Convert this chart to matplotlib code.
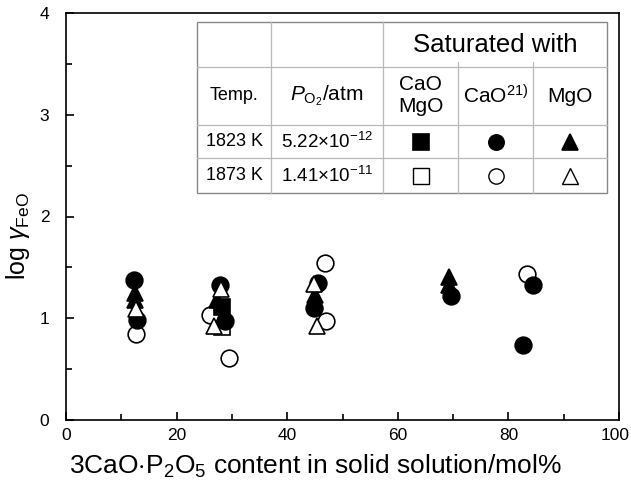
import matplotlib
matplotlib.use("Agg")
import matplotlib.pyplot as plt
import matplotlib.transforms as mtransforms
from matplotlib.ticker import MultipleLocator
from matplotlib.lines import Line2D

plt.rcParams['font.family'] = ['Liberation Sans', 'DejaVu Sans']
plt.rcParams['mathtext.fontset'] = 'custom'
plt.rcParams['mathtext.rm'] = 'Liberation Sans'
plt.rcParams['mathtext.it'] = 'Liberation Sans:italic'
plt.rcParams['mathtext.bf'] = 'Liberation Sans:bold'

# ---- data (x: 3CaO·P2O5 content / mol%, y: log gamma_FeO) ----
cao_mgo_1823_x = [28.3]
cao_mgo_1823_y = [1.11]
cao_mgo_1873_x = [28.2]
cao_mgo_1873_y = [0.91]

cao_1823_x = [12.3, 12.8, 27.8, 28.7, 45.6, 44.9, 69.7, 84.5, 82.7]
cao_1823_y = [1.38, 0.98, 1.33, 0.97, 1.35, 1.10, 1.22, 1.33, 0.74]
cao_1873_x = [12.7, 26.0, 29.5, 46.8, 47.1, 83.3]
cao_1873_y = [0.85, 1.03, 0.61, 1.54, 0.97, 1.43]

mgo_1823_x = [12.4, 12.4, 27.3, 45.0, 45.0, 69.3, 69.3]
mgo_1823_y = [1.25, 1.18, 1.18, 1.23, 1.17, 1.41, 1.33]
mgo_1873_x = [12.7, 28.0, 26.7, 44.8, 45.3]
mgo_1873_y = [1.09, 1.29, 0.92, 1.34, 0.92]

xticks = [0, 20, 40, 60, 80, 100]
yticks = [0, 1, 2, 3, 4]

fig = plt.figure(figsize=(6.31, 4.80), dpi=100)
L, R, B, T = 66, 619, 420, 13
W, H = 631, 480
ax = fig.add_axes([L / W, 1 - B / H, (R - L) / W, (B - T) / H])

ms = 12
mew = 1.2
ax.plot(cao_mgo_1873_x, cao_mgo_1873_y, 's', ms=ms, mfc='white', mec='black', mew=mew, ls='none')
ax.plot(cao_1873_x, cao_1873_y, 'o', ms=ms, mfc='white', mec='black', mew=mew, ls='none')
ax.plot(cao_1823_x, cao_1823_y, 'o', ms=ms, mfc='black', mec='black', mew=mew, ls='none')
ax.plot(cao_mgo_1823_x, cao_mgo_1823_y, 's', ms=ms, mfc='black', mec='black', mew=mew, ls='none')
ax.plot(mgo_1823_x, mgo_1823_y, '^', ms=ms, mfc='black', mec='black', mew=mew, ls='none')
ax.plot(mgo_1873_x, mgo_1873_y, '^', ms=ms, mfc='white', mec='black', mew=mew, ls='none')

ax.set_xlim(0, 100)
ax.set_ylim(0, 4)
ax.set_xticks(xticks)
ax.set_yticks(yticks)
ax.xaxis.set_minor_locator(MultipleLocator(10))
ax.yaxis.set_minor_locator(MultipleLocator(0.5))
ax.tick_params(which='both', direction='in', top=False, right=False, labelsize=12.5, width=1.2)
ax.tick_params(axis='x', which='major', length=6, pad=6)
ax.tick_params(axis='y', which='major', length=6, pad=12)
ax.tick_params(which='minor', length=4)
for s in ax.spines.values():
    s.set_linewidth(1.2)

# keep the last x tick label inside the canvas
fig.canvas.draw()
last = ax.get_xticklabels()[-1]
last.set_transform(last.get_transform() + mtransforms.ScaledTranslation(-4 / 100, 0, fig.dpi_scale_trans))

ax.set_xlabel(r"3CaO$\cdot$P$_2$O$_5$ content in solid solution/mol%", fontsize=19)
ax.xaxis.set_label_coords((315 - L) / (R - L), -(466 - B) / (B - T))
ax.xaxis.label.set_va('center')
ax.set_ylabel(r"log $\mathit{\gamma}_{\mathrm{FeO}}$", fontsize=18)
ax.yaxis.set_label_coords(-(L - 18) / (R - L), (B - 236) / (B - T))
ax.yaxis.label.set_va('center')

# ---- legend table ----
def fx(px):
    return (px - L) / (R - L)

def fy(py):
    return (B - py) / (B - T)

tr = ax.transAxes
gcol = '#b8b8b8'
x0, x1, x2, x3, x4, x5 = 197, 271, 383, 458, 533, 607
y0, y1, y2, y3, y4 = 22, 67, 125, 158, 193

ax.add_patch(plt.Rectangle((fx(x0), fy(y4)), fx(x5) - fx(x0), fy(y0) - fy(y4),
                           transform=tr, facecolor='white', edgecolor='#888888', lw=1.0, zorder=5))
for yy in (y1, y2, y3):
    ax.add_line(Line2D([fx(x0), fx(x5)], [fy(yy), fy(yy)], transform=tr, color=gcol, lw=0.9, zorder=6))
for xx in (x1, x2):
    ax.add_line(Line2D([fx(xx), fx(xx)], [fy(y0), fy(y4)], transform=tr, color=gcol, lw=0.9, zorder=6))
for xx in (x3, x4):
    ax.add_line(Line2D([fx(xx), fx(xx)], [fy(62), fy(y4)], transform=tr, color=gcol, lw=0.9, zorder=6))

cx = [(x0 + x1) / 2, (x1 + x2) / 2, (x2 + x3) / 2, (x3 + x4) / 2, (x4 + x5) / 2]
ry = [(y0 + y1) / 2, (y1 + y2) / 2, (y2 + y3) / 2, (y3 + y4) / 2]

def txt(px, py, s, fs):
    ax.text(fx(px), fy(py), s, transform=tr, ha='center', va='center', fontsize=fs, zorder=7)

txt((x2 + x5) / 2, ry[0] + 1, "Saturated with", 18.5)
txt(cx[0], ry[1], "Temp.", 13)
txt(cx[1], ry[1], r"$\mathit{P}_{\mathrm{O_2}}$/atm", 15)
txt(cx[2], ry[1], "CaO\nMgO", 15)
txt(cx[3], ry[1], r"CaO$^{21)}$", 15)
txt(cx[4], ry[1], "MgO", 15)
txt(cx[0], ry[2], "1823 K", 13)
txt(cx[1], ry[2], r"5.22×10$^{-12}$", 13.5)
txt(cx[0], ry[3], "1873 K", 13)
txt(cx[1], ry[3], r"1.41×10$^{-11}$", 13.5)

lms = 11
for mk, col in [('s', 2), ('o', 3), ('^', 4)]:
    ax.plot([fx(cx[col])], [fy(ry[2])], mk, transform=tr, ms=lms, mfc='black', mec='black', mew=mew, zorder=8, clip_on=False)
for mk, col in [('s', 2), ('o', 3), ('^', 4)]:
    ax.plot([fx(cx[col])], [fy(ry[3])], mk, transform=tr, ms=lms, mfc='white', mec='black', mew=1.0, zorder=8, clip_on=False)

fig.savefig("out.png", dpi=100)
